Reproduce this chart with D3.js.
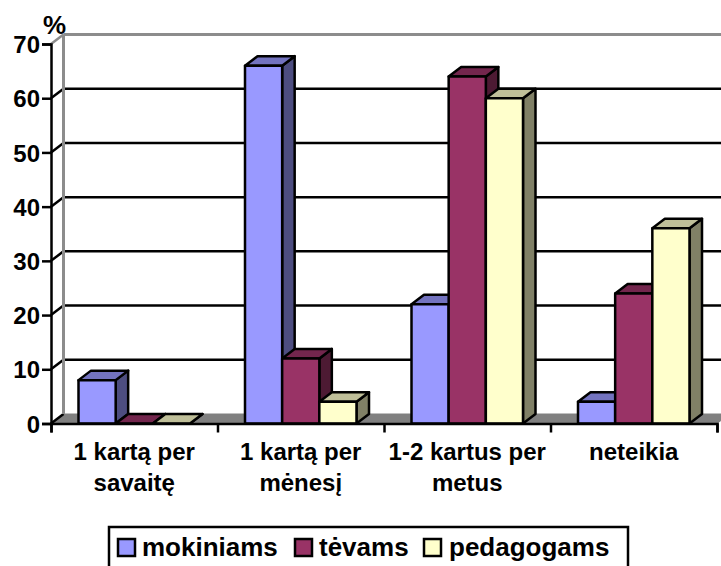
<!DOCTYPE html>
<html>
<head>
<meta charset="utf-8">
<script src="https://d3js.org/d3.v7.min.js"></script>
<style>
  html, body { margin: 0; padding: 0; background: #fff; overflow: hidden; }
  text { font-family: "Liberation Sans", Arial, sans-serif; font-weight: bold; fill: #000; }
</style>
</head>
<body>
<div id="chart"></div>
<script>
const categories = [['1 kartą per', 'savaitę'], ['1 kartą per', 'mėnesį'], ['1-2 kartus per', 'metus'], ['neteikia']];
const seriesNames = ['mokiniams', 'tėvams', 'pedagogams'];
const mokiniams = [8, 66, 22, 4];
const tevams = [0, 12, 64, 24];
const pedagogams = [0, 4, 60, 36];
const yTicks = [0, 10, 20, 30, 40, 50, 60, 70];

const seriesValues = [mokiniams, tevams, pedagogams];
const colors = ['#9999FF', '#993366', '#FFFFCC'];
const topColors = ['#7373BF', '#73264D', '#BFBF99'];
const sideColors = ['#4D4D80', '#4D1A33', '#808066'];

const w = 721;
const h = 566;
const left = 51;
const bandW = 166.5;
// depth of the 3d box
const dx = 12.5;
const dy = -9.5;

const svg = d3.select('#chart').append('svg')
  .attr('width', w)
  .attr('height', h)
  .style('display', 'block');

//Scales
const yScale = d3.scaleLinear().domain([0, 70]).range([423.5, 44]);
const xEdge = d3.scaleLinear().domain([0, 4]).range([left, left + 4 * bandW]);
const xBand = d3.scaleBand().domain(d3.range(4)).range([left, left + 4 * bandW]);
const xInner = d3.scaleBand().domain(d3.range(3)).range([27.5, bandW - 27.5]);

//Floor
const y0 = yScale(0);
const x1 = xEdge(4);
svg.append('polygon')
  .attr('points', `${left},${y0} ${left + dx},${y0 + dy} ${x1 + dx},${y0 + dy} ${x1},${y0}`)
  .attr('fill', '#808080')
  .attr('stroke', '#808080');

//Back wall grid lines + the diagonal bit on the side wall
yTicks.forEach(t => {
  const y = yScale(t);
  const col = t === 70 ? '#8c8c8c' : '#000';
  if (t > 0) {
    svg.append('line')
      .attr('x1', left + dx).attr('x2', x1 + dx)
      .attr('y1', y + dy).attr('y2', y + dy)
      .attr('stroke', col)
      .attr('stroke-width', t === 70 ? 3 : 2.5);
  }
  svg.append('line')
    .attr('x1', left).attr('x2', left + dx)
    .attr('y1', y).attr('y2', y + dy)
    .attr('stroke', col)
    .attr('stroke-width', 2.5);
});

//Back wall left edge
svg.append('line')
  .attr('x1', left + dx).attr('x2', left + dx)
  .attr('y1', yScale(70) + dy).attr('y2', y0 + dy)
  .attr('stroke', '#8c8c8c')
  .attr('stroke-width', 3);

//Bars, back to front doesn't matter here so go left to right
function box(catIndex, serIndex, value) {
  const x = xBand(catIndex) + xInner(serIndex);
  const bw = xInner.bandwidth();
  const y = yScale(value);
  const g = svg.append('g')
    .attr('stroke', '#000')
    .attr('stroke-width', 2.5)
    .attr('stroke-linejoin', 'round');
  // side
  g.append('polygon')
    .attr('points', `${x + bw},${y} ${x + bw + dx},${y + dy} ${x + bw + dx},${y0 + dy} ${x + bw},${y0}`)
    .attr('fill', sideColors[serIndex]);
  // top
  g.append('polygon')
    .attr('points', `${x},${y} ${x + dx},${y + dy} ${x + bw + dx},${y + dy} ${x + bw},${y}`)
    .attr('fill', topColors[serIndex]);
  // front
  g.append('rect')
    .attr('x', x)
    .attr('y', y)
    .attr('width', bw)
    .attr('height', y0 - y)
    .attr('fill', colors[serIndex]);
}

categories.forEach((c, i) => {
  seriesValues.forEach((vals, s) => box(i, s, vals[i]));
});

//Axes
const yAxis = d3.axisLeft(yScale).tickValues(yTicks).tickSize(9).tickPadding(2);
const gy = svg.append('g')
  .attr('transform', `translate(${left}, 0)`)
  .call(yAxis);
gy.selectAll('text').style('font-size', '24px').attr('dy', '0.36em');

const xAxis = d3.axisBottom(xEdge).tickValues([0, 1, 2, 3, 4]).tickFormat('').tickSize(9);
const gx = svg.append('g')
  .attr('transform', `translate(0, ${y0})`)
  .call(xAxis);
[gy, gx].forEach(g => {
  g.select('.domain').attr('stroke', '#000').attr('stroke-width', 2.5);
  g.selectAll('.tick line').attr('stroke', '#000').attr('stroke-width', 2.5);
});

//Category labels
categories.forEach((lines, i) => {
  lines.forEach((line, j) => {
    svg.append('text')
      .attr('x', xBand(i) + xBand.bandwidth() / 2)
      .attr('y', 460 + j * 31)
      .attr('text-anchor', 'middle')
      .style('font-size', '24px')
      .text(line);
  });
});

//Axis unit
svg.append('text')
  .attr('x', 43)
  .attr('y', 34)
  .style('font-size', '26px')
  .text('%');

//Legend
svg.append('rect')
  .attr('x', 109)
  .attr('y', 527)
  .attr('width', 519)
  .attr('height', 45)
  .attr('fill', '#fff')
  .attr('stroke', '#000')
  .attr('stroke-width', 2.5);

const legendKeyX = [118, 295, 424];
const legendTextX = [142, 319, 449];
seriesNames.forEach((name, i) => {
  svg.append('rect')
    .attr('x', legendKeyX[i])
    .attr('y', 539)
    .attr('width', 17)
    .attr('height', 17)
    .attr('fill', colors[i])
    .attr('stroke', '#000')
    .attr('stroke-width', 2.5);
  svg.append('text')
    .attr('x', legendTextX[i])
    .attr('y', 556)
    .style('font-size', '26px')
    .text(name);
});
</script>
</body>
</html>
